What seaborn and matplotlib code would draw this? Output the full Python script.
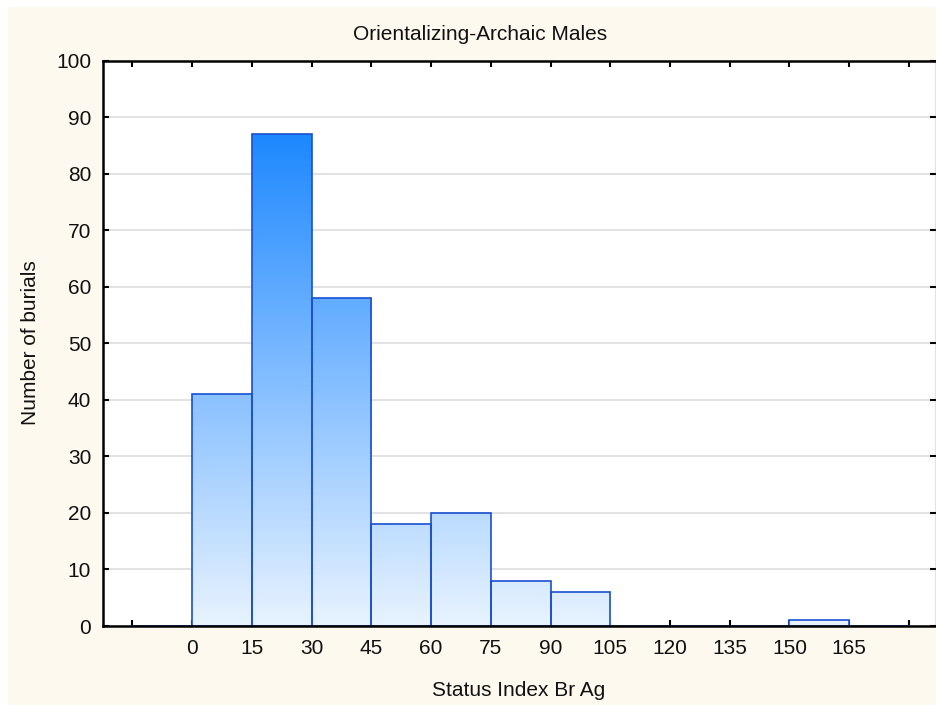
import numpy as np
import pandas as pd
import matplotlib
matplotlib.use("Agg")
import matplotlib.pyplot as plt
from matplotlib.colors import LinearSegmentedColormap
from matplotlib.patches import Rectangle
import seaborn as sns

# Histogram of the status index (bin width 15)
bin_edges = [-15, 0, 15, 30, 45, 60, 75, 90, 105, 120, 135, 150, 165, 180]
counts = [0, 41, 87, 58, 18, 20, 8, 6, 0, 0, 0, 1, 0]
x_tick_labels = ["0", "15", "30", "45", "60", "75", "90", "105", "120", "135", "150", "165"]
y_ticks = [0, 10, 20, 30, 40, 50, 60, 70, 80, 90, 100]

title = "Orientalizing-Archaic Males"
x_label = "Status Index Br Ag"
y_label = "Number of burials"

sns.set_theme(style="white")
plt.rcParams["font.family"] = ["Liberation Sans", "DejaVu Sans"]
FS = 15

W, H = 937, 705
fig = plt.figure(figsize=(W / 100, H / 100), dpi=100)
fig.patch.set_facecolor("white")

# cream panel behind the chart
fig.patches.append(Rectangle((8 / W, 0), 1, (H - 7) / H, transform=fig.transFigure,
                             facecolor="#FDF9EE", edgecolor="none", zorder=-10))

left, right, top, bottom = 103, 936, 60.7, 626
ax = fig.add_axes([left / W, (H - bottom) / H, (right - left) / W, (bottom - top) / H])
ax.set_facecolor("white")

df = pd.DataFrame({
    "index": [(a + b) / 2 for a, b in zip(bin_edges[:-1], bin_edges[1:])],
    "n": counts,
})
sns.histplot(data=df, x="index", weights="n", bins=list(bin_edges), ax=ax, stat="count",
             color="#2a7bff", edgecolor="#1a4fd1", linewidth=1.2, alpha=1, zorder=3)

# vertical colour gradient shared by all bars (light at 0, saturated at the peak)
cmap = LinearSegmentedColormap.from_list("bar_grad", ["#E8F3FE", "#1E88FF"])
peak = max(counts)
grad = np.linspace(0, 1, 256).reshape(-1, 1)
for p in list(ax.patches):
    x0, w, h = p.get_x(), p.get_width(), p.get_height()
    p.set_facecolor("none")
    p.set_zorder(4)
    if h <= 0:
        continue
    im = ax.imshow(grad, cmap=cmap, origin="lower", aspect="auto",
                   extent=(x0, x0 + w, 0, peak), zorder=3, interpolation="bilinear")
    im.set_clip_path(p)

ax.set_xlim(-22.4, 186.8)
ax.set_ylim(0, 100)

ax.set_xticks(bin_edges)
ax.set_xticklabels([""] + x_tick_labels + [""], fontsize=FS, color="#111111")
ax.set_yticks(y_ticks)
ax.set_yticklabels([str(v) for v in y_ticks], fontsize=FS, color="#111111")

ax.tick_params(axis="both", which="both", direction="in", length=4, width=1.5,
               color="black", top=True, right=True, bottom=True, left=True)
ax.tick_params(axis="x", pad=9)
ax.tick_params(axis="y", pad=8.5)

ax.yaxis.grid(True, color="#DADADA", linewidth=1.1, zorder=0)
ax.xaxis.grid(False)
ax.set_axisbelow(True)

for side in ["left", "bottom", "top"]:
    ax.spines[side].set_color("black")
    ax.spines[side].set_linewidth(1.8)
    ax.spines[side].set_zorder(6)
ax.spines["right"].set_color("#707070")
ax.spines["right"].set_linewidth(1.0)

ax.set_xlabel("")
ax.set_ylabel("")
fig.text(480.5 / W, 1 - 40.5 / H, title, ha="center", va="baseline", fontsize=FS, color="#111111")
fig.text(519 / W, 1 - 696 / H, x_label, ha="center", va="baseline",
         fontsize=FS, color="#111111")
fig.text(31 / W, 1 - 343 / H, y_label, ha="center", va="center",
         rotation=90, fontsize=FS, color="#111111")

fig.savefig("out.png", dpi=100, facecolor=fig.get_facecolor())
